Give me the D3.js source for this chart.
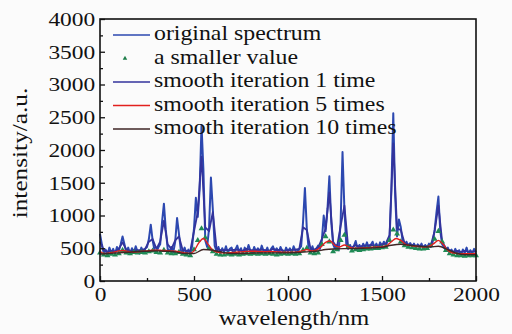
<!DOCTYPE html>
<html>
<head>
<meta charset="utf-8">
<script src="https://cdn.jsdelivr.net/npm/d3@7"></script>
<style>
	body { margin: 0; background: #fbfbfb; }
	text { font-family: "Liberation Serif", "Times New Roman", serif; fill: #111; }
</style>
</head>
<body>
<div id="chart"></div>
<script>
// original spectrum, one value every 10 nm from 0 to 2000
const original = [
	720, 560, 420, 480, 400, 510, 430, 490, 410, 520,
	460, 560, 680, 560, 440, 510, 410, 500, 430, 530,
	450, 420, 510, 440, 490, 520, 640, 860, 620, 470,
	440, 510, 560, 900, 1180, 780, 490, 450, 520, 440,
	600, 960, 720, 470, 430, 510, 420, 480, 410, 530,
	800, 1270, 980, 1400, 2380, 1700, 620, 520, 800, 1580,
	1100, 540, 450, 520, 420, 500, 440, 530, 430, 490,
	510, 420, 480, 540, 440, 500, 410, 510, 450, 550,
	460, 420, 520, 450, 500, 430, 540, 460, 440, 510,
	420, 490, 530, 450, 500, 430, 520, 460, 420, 510,
	450, 500, 430, 530, 460, 450, 490, 530, 900, 1420,
	800, 490, 450, 530, 440, 490, 540, 490, 620, 1000,
	760, 1100, 1600, 900, 560, 490, 550, 470, 900, 1970,
	1100, 560, 490, 550, 480, 530, 610, 490, 550, 480,
	570, 510, 590, 490, 550, 600, 510, 570, 500, 590,
	530, 600, 540, 610, 620, 1400, 2560, 1300, 680, 940,
	820, 600, 550, 600, 530, 580, 520, 570, 500, 560,
	510, 570, 490, 550, 510, 570, 520, 600, 780, 1050,
	1290, 760, 560, 510, 470, 510, 430, 480, 410, 490,
	420, 470, 400, 480, 430, 510, 410, 470, 420, 490,
	440
]

// smooth iteration 1 time, every 20 nm
const smooth1 = [
	600, 470, 450, 460, 450, 490, 590, 480, 460, 470,
	470, 470, 490, 600, 640, 490, 600, 920, 560, 490,
	620, 680, 470, 460, 460, 760, 1050, 1900, 820, 760,
	1050, 500, 470, 470, 470, 470, 480, 470, 460, 490,
	470, 470, 480, 480, 470, 460, 490, 470, 480, 460,
	470, 470, 480, 490, 820, 780, 490, 480, 510, 640,
	800, 1350, 600, 510, 840, 1150, 520, 510, 550, 520,
	540, 540, 550, 540, 540, 560, 570, 700, 2100, 800,
	780, 580, 560, 550, 540, 540, 530, 530, 550, 760,
	1150, 600, 500, 470, 450, 460, 440, 460, 450, 450,
	450
]

// a smaller value (triangles), every 20 nm
const smaller = [
	430, 400, 390, 410, 400, 420, 470, 430, 420, 440,
	430, 440, 430, 450, 460, 440, 430, 470, 430, 420,
	420, 440, 410, 400, 390, 480, 620, 800, 660, 500,
	450, 410, 400, 400, 410, 400, 410, 400, 410, 420,
	410, 420, 410, 420, 410, 420, 410, 400, 410, 420,
	410, 420, 410, 420, 470, 500, 430, 420, 430, 560,
	680, 600, 450, 480, 620, 700, 520, 460, 480, 470,
	480, 490, 490, 500, 500, 510, 520, 620, 780, 720,
	600, 540, 520, 510, 500, 490, 490, 500, 540, 640,
	760, 600, 470, 420, 400, 390, 390, 380, 390, 390,
	390
]

// smooth iteration 5 times, every 25 nm
const smooth5 = [
	450, 420, 430, 440, 460, 465, 450, 440, 445, 455,
	460, 470, 470, 468, 465, 460, 455, 445, 430, 420,
	460, 580, 650, 560, 470, 440, 430, 430, 435, 440,
	445, 450, 455, 455, 450, 448, 450, 448, 445, 440,
	440, 440, 445, 460, 480, 460, 470, 520, 590, 610,
	540, 520, 550, 520, 500, 500, 505, 510, 515, 520,
	525, 540, 600, 650, 620, 560, 540, 530, 525, 520,
	530, 570, 620, 560, 470, 430, 420, 415, 415, 415,
	420
]

// smooth iteration 10 times, every 50 nm
const smooth10 = [
	410, 420, 430, 440, 450, 455, 460, 455, 445, 420,
	420, 480, 470, 440, 420, 420, 425, 430, 430, 430,
	430, 435, 445, 455, 480, 490, 495, 495, 500, 505,
	515, 545, 560, 545, 530, 520, 530, 480, 420, 400,
	400
]

const xTicks = [0, 500, 1000, 1500, 2000]
const xMinor = [250, 750, 1250, 1750]
const yTicks = [0, 500, 1000, 1500, 2000, 2500, 3000, 3500, 4000]
const yMinor = [250, 750, 1250, 1750, 2250, 2750, 3250, 3750]

const legendItems = [
	{ label: 'original spectrum', kind: 'line', color: '#2c48b0' },
	{ label: 'a smaller value', kind: 'triangle', color: '#1c7d48' },
	{ label: 'smooth iteration 1 time', kind: 'line', color: '#33339c' },
	{ label: 'smooth iteration 5 times', kind: 'line', color: '#e2201e' },
	{ label: 'smooth iteration 10 times', kind: 'line', color: '#3f2626' }
]

const width = 512
const height = 334
const margin = { top: 19, right: 36, bottom: 53, left: 100 }

const svg = d3.select('#chart')
	.append('svg')
	.attr('width', width)
	.attr('height', height)

svg.append('rect')
	.attr('width', width)
	.attr('height', height)
	.attr('fill', '#fbfbfb')

const x = d3.scaleLinear()
	.domain([0, 2000])
	.range([margin.left, width - margin.right])

const y = d3.scaleLinear()
	.domain([0, 4000])
	.range([height - margin.bottom, margin.top])

// pairs each series with its wavelength, given the sampling step
function toPoints(values, step) {
	return values.map((v, i) => [i * step, v])
}

const line = d3.line()
	.x(d => x(d[0]))
	.y(d => y(d[1]))

const smoothLine = d3.line()
	.x(d => x(d[0]))
	.y(d => y(d[1]))
	.curve(d3.curveMonotoneX)

const plot = svg.append('g')

plot.append('path')
	.datum(toPoints(original, 10))
	.attr('fill', 'none')
	.attr('stroke', legendItems[0].color)
	.attr('stroke-width', 2)
	.attr('stroke-linejoin', 'round')
	.attr('d', line)

plot.append('path')
	.datum(toPoints(smooth1, 20))
	.attr('fill', 'none')
	.attr('stroke', legendItems[2].color)
	.attr('stroke-width', 1.8)
	.attr('stroke-linejoin', 'round')
	.attr('d', line)

const tri = d3.symbol().type(d3.symbolTriangle).size(15)

plot.append('g')
	.selectAll('path')
	.data(toPoints(smaller, 20))
	.join('path')
	.attr('transform', d => `translate(${x(d[0])},${y(d[1])})`)
	.attr('fill', '#1f8a55')
	.attr('d', tri)

plot.append('path')
	.datum(toPoints(smooth5, 25))
	.attr('fill', 'none')
	.attr('stroke', legendItems[3].color)
	.attr('stroke-width', 1.4)
	.attr('d', smoothLine)

plot.append('path')
	.datum(toPoints(smooth10, 50))
	.attr('fill', 'none')
	.attr('stroke', legendItems[4].color)
	.attr('stroke-width', 1.4)
	.attr('d', smoothLine)

// frame
svg.append('rect')
	.attr('x', x(0))
	.attr('y', y(4000))
	.attr('width', x(2000) - x(0))
	.attr('height', y(0) - y(4000))
	.attr('fill', 'none')
	.attr('stroke', '#111')
	.attr('stroke-width', 1.6)

// axes, ticks pointing inward
const tickFont = 19.7
const stretch = 1.19

const xAxis = svg.append('g')
	.attr('transform', `translate(0,${y(0)})`)
	.call(d3.axisBottom(x).tickValues(xTicks).tickSize(-5).tickPadding(6).tickFormat(d3.format('d')))
xAxis.append('g')
	.call(d3.axisBottom(x).tickValues(xMinor).tickSize(-3).tickFormat(''))

const yAxis = svg.append('g')
	.attr('transform', `translate(${x(0)},0)`)
	.call(d3.axisLeft(y).tickValues(yTicks).tickSize(-5).tickPadding(4).tickFormat(d3.format('d')))
yAxis.append('g')
	.call(d3.axisLeft(y).tickValues(yMinor).tickSize(-3).tickFormat(''))

svg.selectAll('.domain').remove()
svg.selectAll('.tick line').attr('stroke', '#111').attr('stroke-width', 1.3)
svg.selectAll('.tick text')
	.style('font-family', '"Liberation Serif", serif')
	.style('font-size', tickFont + 'px')
	.attr('fill', '#111')
	.attr('transform', `scale(${stretch},1)`)

// axis titles
svg.append('text')
	.attr('transform', `translate(${(x(0) + x(2000)) / 2 + 6},325) scale(1.11,1)`)
	.attr('text-anchor', 'middle')
	.style('font-size', '22px')
	.text('wavelength/nm')

svg.append('text')
	.attr('transform', `translate(27,${(y(0) + y(4000)) / 2 + 3}) rotate(-90) scale(1.15,1)`)
	.attr('text-anchor', 'middle')
	.style('font-size', '22px')
	.text('intensity/a.u.')

// legend
const legend = svg.append('g')
	.selectAll('g')
	.data(legendItems)
	.join('g')
	.attr('transform', (d, i) => `translate(113,${35 + i * 23.5})`)

legend.filter(d => d.kind == 'line')
	.append('line')
	.attr('x1', 0)
	.attr('x2', 37)
	.attr('stroke', d => d.color)
	.attr('stroke-width', 1.6)

legend.filter(d => d.kind == 'triangle')
	.append('path')
	.attr('transform', 'translate(12,0)')
	.attr('fill', d => d.color)
	.attr('d', d3.symbol().type(d3.symbolTriangle).size(9))

legend.append('text')
	.attr('transform', 'translate(41,5) scale(1.134,1)')
	.style('font-size', '21px')
	.text(d => d.label)
</script>
</body>
</html>
